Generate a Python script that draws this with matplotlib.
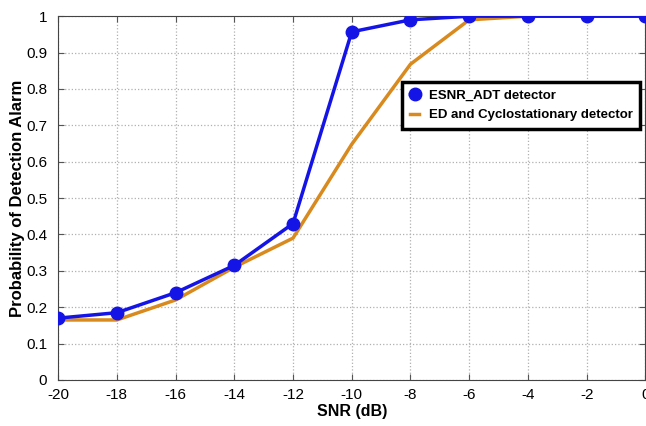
import numpy as np
import matplotlib.pyplot as plt

plt.rcParams['font.family'] = ['Liberation Sans', 'DejaVu Sans']
plt.rcParams['axes.unicode_minus'] = False

# SNR values (dB)
snr = [-20, -18, -16, -14, -12, -10, -8, -6, -4, -2, 0]
# detection probabilities
pd_esnr = [0.17, 0.185, 0.24, 0.315, 0.43, 0.957, 0.99, 1.0, 1.0, 1.0, 1.0]
pd_ed = [0.165, 0.165, 0.22, 0.31, 0.39, 0.648, 0.868, 0.99, 1.0, 1.0, 1.0]

xticks = [-20, -18, -16, -14, -12, -10, -8, -6, -4, -2, 0]
yticks = [0, 0.1, 0.2, 0.3, 0.4, 0.5, 0.6, 0.7, 0.8, 0.9, 1]

fig = plt.figure(figsize=(6.46, 4.26), dpi=100)
ax = fig.add_axes([0.09, 0.108, 0.909, 0.854])

ax.plot(snr, pd_esnr, color='#1414e6', lw=2.5, marker='o', ms=9,
        label='ESNR_ADT detector', zorder=3)
ax.plot(snr, pd_ed, color='#d98a1e', lw=2.5, label='ED and Cyclostationary detector',
        zorder=2)

ax.set_xlim(-20, 0)
ax.set_ylim(0, 1)
ax.set_xticks(xticks)
ax.set_yticks(yticks)
ax.set_yticklabels(['0', '0.1', '0.2', '0.3', '0.4', '0.5', '0.6', '0.7', '0.8', '0.9', '1'])
ax.tick_params(labelsize=11, direction='in', length=4, color='#555555',
               top=True, right=True)
ax.tick_params(axis='y', pad=8)
ax.tick_params(axis='x', pad=6)
ax.grid(True, linestyle=':', color='#b0b0b0', lw=0.9)
for s in ax.spines.values():
    s.set_color('#444444')

ax.set_xlabel('SNR (dB)', fontsize=11.5, fontweight='bold', labelpad=1)
ax.set_ylabel('Probability of Detection Alarm', fontsize=12, fontweight='bold')
ax.yaxis.set_label_coords(-0.056, 0.5)

leg = ax.legend(loc='upper right', bbox_to_anchor=(0.9915, 0.82), fancybox=False,
                framealpha=1, edgecolor='black', handlelength=0.7,
                prop={'weight': 'bold', 'size': 9.5}, borderpad=0.6,
                labelspacing=0.55, handletextpad=0.7, borderaxespad=0)
leg.get_frame().set_linewidth(2.5)

fig.savefig('out.png', dpi=100)
